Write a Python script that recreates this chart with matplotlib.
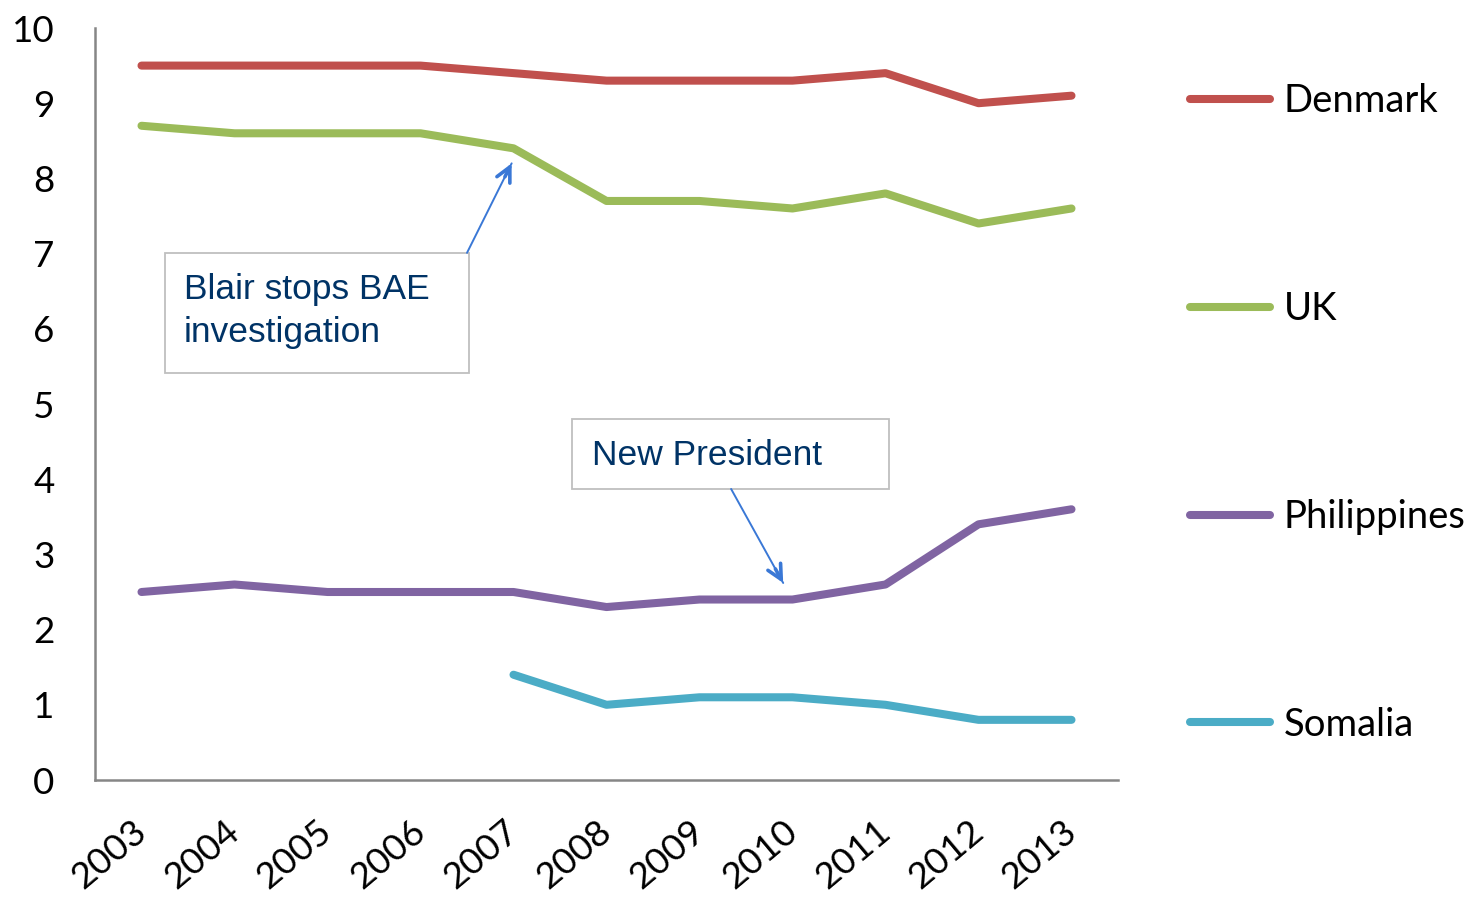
import numpy as np
import matplotlib
matplotlib.use("Agg")
import matplotlib.pyplot as plt
from matplotlib.patches import Rectangle

# Corruption index scores by country
years = ["2003", "2004", "2005", "2006", "2007", "2008", "2009", "2010", "2011", "2012", "2013"]
denmark = [9.5, 9.5, 9.5, 9.5, 9.4, 9.3, 9.3, 9.3, 9.4, 9.0, 9.1]
uk = [8.7, 8.6, 8.6, 8.6, 8.4, 7.7, 7.7, 7.6, 7.8, 7.4, 7.6]
philippines = [2.5, 2.6, 2.5, 2.5, 2.5, 2.3, 2.4, 2.4, 2.6, 3.4, 3.6]
somalia = [np.nan, np.nan, np.nan, np.nan, 1.4, 1.0, 1.1, 1.1, 1.0, 0.8, 0.8]

series = [("Denmark", denmark, "#C0504D"),
          ("UK", uk, "#9BBB59"),
          ("Philippines", philippines, "#8064A2"),
          ("Somalia", somalia, "#4BACC6")]

plt.rcParams['font.family'] = ['Lato', 'DejaVu Sans']

fig = plt.figure(figsize=(14.79, 9.02), dpi=100)
ax = fig.add_axes([95/1479, 1-780/902, (1118-95)/1479, (780-28)/902])

x = np.arange(len(years))
for nombre, valores, color in series:
    ax.plot(x, valores, color=color, lw=5.8, label=nombre,
            solid_capstyle='round', solid_joinstyle='round')

ax.set_xlim(-0.5, len(years) - 0.5)
ax.set_ylim(0, 10)
ax.set_yticks(range(0, 11))
ax.set_xticks(x)
ax.set_xticklabels(years, rotation=40, ha='right', va='center', rotation_mode='anchor')
ax.tick_params(axis='y', length=0, pad=29, labelsize=26.5)
ax.tick_params(axis='x', length=0, pad=34, labelsize=26.5)

for lado in ['top', 'right']:
    ax.spines[lado].set_visible(False)
for lado in ['left', 'bottom']:
    ax.spines[lado].set_color('#868686')
    ax.spines[lado].set_linewidth(1.8)

# leyenda a la derecha
ax.legend(loc='center left', bbox_to_anchor=(1190/1479, 1-413/902),
          bbox_transform=fig.transFigure, frameon=False, fontsize=27.5,
          handlelength=2.1, handletextpad=0.35, labelspacing=4.5,
          borderpad=0, borderaxespad=0)

# cuadros de texto con flechas
azul = '#003366'
flecha = '#3A78D6'


def flecha_con_punta(inicio, fin):
    # linea fina y punta mas gruesa, estilo Office
    ax.annotate("", xy=fin, xytext=inicio,
                arrowprops=dict(arrowstyle='-', color=flecha, lw=1.4,
                                shrinkA=0, shrinkB=0))
    dx = fin[0] - inicio[0]
    dy = fin[1] - inicio[1]
    ax.annotate("", xy=fin, xytext=(fin[0] - dx * 0.15, fin[1] - dy * 0.15),
                arrowprops=dict(arrowstyle='->', color=flecha, lw=2.6,
                                mutation_scale=26, shrinkA=0, shrinkB=0,
                                capstyle='round'))


ax.add_patch(Rectangle((0.253, 5.41), 3.52-0.253, 7.01-5.41, fill=False,
                       edgecolor='#BFBFBF', lw=1.3, zorder=3))
ax.text(0.457, 6.39, "Blair stops BAE", family='Liberation Sans', fontsize=25.5,
        color=azul, va='baseline')
ax.text(0.457, 5.83, "investigation", family='Liberation Sans', fontsize=25.5,
        color=azul, va='baseline')
flecha_con_punta((3.5, 7.01), (3.98, 8.2))

ax.add_patch(Rectangle((4.63, 3.87), 8.04-4.63, 4.8-3.87, fill=False,
                       edgecolor='#BFBFBF', lw=1.3, zorder=3))
ax.text(4.84, 4.19, "New President", family='Liberation Sans', fontsize=25.5,
        color=azul, va='baseline')
flecha_con_punta((6.34, 3.87), (6.9, 2.62))

plt.savefig('out.png', dpi=100)
